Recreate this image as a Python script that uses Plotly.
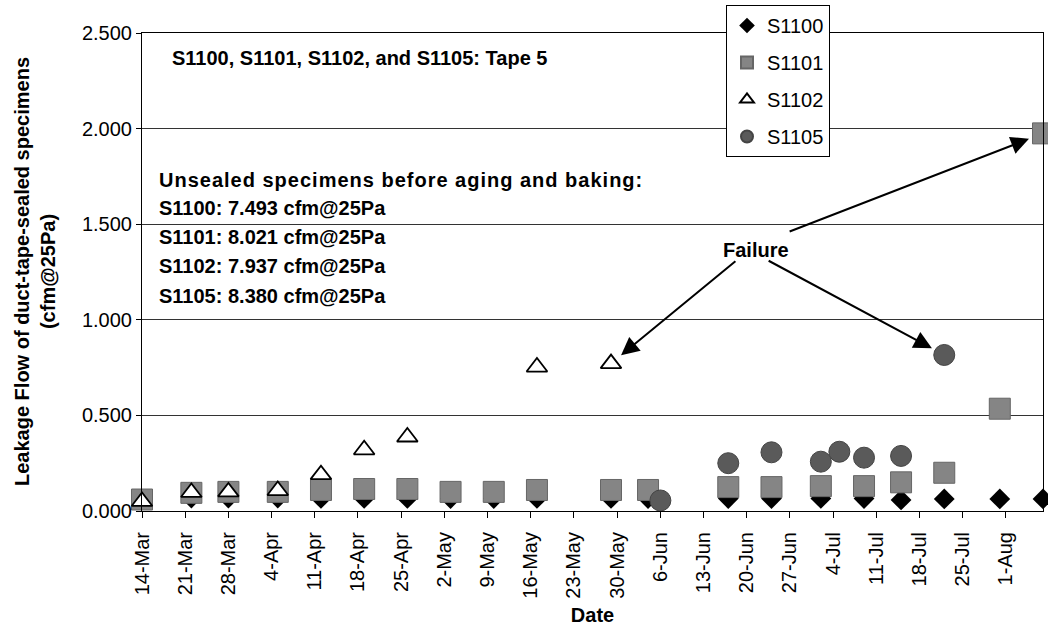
import plotly.graph_objects as go
from datetime import datetime, timedelta

YEAR = 2005

def d(md):
    m, dd = md.split("-")
    return f"{YEAR}-{m}-{dd}"

# ---- data ----
s1100_dates = ["03-14", "03-22", "03-28", "04-05", "04-12", "04-19", "04-26", "05-03", "05-10", "05-17",
               "05-29", "06-04", "06-17", "06-24", "07-02", "07-09", "07-15", "07-22", "07-31", "08-07"]
s1100_vals = [0.060, 0.068, 0.068, 0.068, 0.066, 0.066, 0.066, 0.065, 0.065, 0.066,
              0.066, 0.065, 0.065, 0.065, 0.066, 0.065, 0.058, 0.063, 0.063, 0.063]

s1101_dates = ["03-14", "03-22", "03-28", "04-05", "04-12", "04-19", "04-26", "05-03", "05-10", "05-17",
               "05-29", "06-04", "06-17", "06-24", "07-02", "07-09", "07-15", "07-22", "07-31", "08-07"]
s1101_vals = [0.060, 0.095, 0.100, 0.100, 0.110, 0.115, 0.115, 0.100, 0.100, 0.110,
              0.110, 0.110, 0.125, 0.125, 0.130, 0.130, 0.150, 0.200, 0.535, 1.975]

s1102_dates = ["03-14", "03-22", "03-28", "04-05", "04-12", "04-19", "04-26", "05-17", "05-29"]
s1102_vals = [0.050, 0.097, 0.100, 0.107, 0.190, 0.320, 0.387, 0.753, 0.771]

s1105_dates = ["06-06", "06-17", "06-24", "07-02", "07-05", "07-09", "07-15", "07-22"]
s1105_vals = [0.055, 0.250, 0.307, 0.258, 0.310, 0.279, 0.288, 0.816]

unsealed_lines = [
    "S1100: 7.493 cfm@25Pa",
    "S1101: 8.021 cfm@25Pa",
    "S1102: 7.937 cfm@25Pa",
    "S1105: 8.380 cfm@25Pa",
]

FONT = "Arial, 'Liberation Sans', Helvetica, sans-serif"

# pixel geometry of plot area
L, R, T, B = 142, 1043, 33, 511
W, H = 1048, 630

def px(xp):
    return (xp - L) / (R - L)

def py(yp):
    return (B - yp) / (B - T)

fig = go.Figure()

fig.add_trace(go.Scatter(
    x=[d(v) for v in s1100_dates], y=s1100_vals, mode="markers", name="S1100",
    legendgroup="a",
    marker=dict(symbol="diamond", size=16, color="#000000", line=dict(width=0)),
    cliponaxis=False))
fig.add_trace(go.Scatter(
    x=[d(v) for v in s1101_dates], y=s1101_vals, mode="markers", name="S1101",
    legendgroup="b",
    marker=dict(symbol="square", size=21, color="#858585", line=dict(width=1, color="#666666")),
    cliponaxis=False))
fig.add_trace(go.Scatter(
    x=[d(v) for v in s1102_dates], y=s1102_vals, mode="markers", name="S1102",
    legendgroup="c",
    marker=dict(symbol="triangle-up", size=18, color="#ffffff", line=dict(width=1.8, color="#000000")),
    cliponaxis=False))
fig.add_trace(go.Scatter(
    x=[d(v) for v in s1105_dates], y=s1105_vals, mode="markers", name="S1105",
    legendgroup="d",
    marker=dict(symbol="circle", size=21, color="#5a5a5a", line=dict(width=1, color="#444444")),
    cliponaxis=False))

annotations = []
# text blocks
annotations.append(dict(text="<b>S1100, S1101, S1102, and S1105: Tape 5</b>", xref="paper", yref="paper",
                        x=px(170), y=py(58), xanchor="left", yanchor="middle", showarrow=False,
                        font=dict(size=20, family=FONT, color="black")))
annotations.append(dict(text="<b><span style='letter-spacing:1px'>Unsealed specimens before aging and baking:</span></b>",
                        xref="paper", yref="paper",
                        x=px(157), y=py(180), xanchor="left", yanchor="middle", showarrow=False,
                        font=dict(size=20, family=FONT, color="black")))
for i, line in enumerate(unsealed_lines):
    annotations.append(dict(text=f"<b>{line}</b>", xref="paper", yref="paper",
                            x=px(157), y=py(208 + 29.2 * i), xanchor="left", yanchor="middle",
                            showarrow=False, font=dict(size=20, family=FONT, color="black")))

# Failure label
annotations.append(dict(text="<b>Failure</b>", xref="paper", yref="paper", x=px(756), y=py(250),
                        xanchor="center", yanchor="middle", showarrow=False,
                        font=dict(size=20, family=FONT, color="black")))

base = datetime(YEAR, 3, 14)
def day(n):
    return (base + timedelta(days=n)).strftime("%Y-%m-%d %H:%M")

arrows = [
    (d(s1101_dates[-1]), s1101_vals[-1], day(104.7), 1.459, 15),
    (d(s1102_dates[-1]), s1102_vals[-1], day(96.4), 1.313, 13),
    (d(s1105_dates[-1]), s1105_vals[-1], day(101.3), 1.313, 14),
]
for hx, hy, tx, ty, so in arrows:
    annotations.append(dict(text="", x=hx, y=hy, xref="x", yref="y", ax=tx, ay=ty,
                            axref="x", ayref="y", showarrow=True, arrowhead=2, arrowsize=1.8,
                            arrowwidth=2, arrowcolor="black", standoff=so))

# y axis title
annotations.append(dict(text="<b>Leakage Flow of duct-tape-sealed specimens<br>(cfm@25Pa)</b>",
                        xref="paper", yref="paper", x=px(35), y=py(272), textangle=-90,
                        xanchor="center", yanchor="middle", showarrow=False,
                        font=dict(size=20, family=FONT, color="black")))

fig.update_layout(
    width=W, height=H, autosize=False,
    margin=dict(l=L, r=W - R, t=T, b=H - B, autoexpand=False),
    paper_bgcolor="white", plot_bgcolor="white",
    font=dict(family=FONT, size=20, color="black"),
    showlegend=True,
    legend=dict(x=px(726), y=py(5), xanchor="left", yanchor="top",
                bgcolor="white", bordercolor="black", borderwidth=1,
                font=dict(size=20, family=FONT, color="black"),
                itemsizing="constant", tracegroupgap=8, traceorder="grouped"),
    annotations=annotations,
)

fig.update_xaxes(
    type="date", range=[f"{YEAR}-03-14", f"{YEAR}-08-07"],
    tick0=f"{YEAR}-03-14", dtick=7 * 86400000, tickformat="%-d-%b", tickangle=-90,
    ticks="outside", ticklen=6, tickcolor="black", tickwidth=1, ticklabelstandoff=6,
    showline=True, linecolor="black", linewidth=1, mirror=True,
    showgrid=False, zeroline=False,
    tickfont=dict(size=20, family=FONT, color="black"),
    title=dict(text="<b>Date</b>", standoff=10, font=dict(size=20, family=FONT, color="black")),
    automargin=False,
)
fig.update_yaxes(
    range=[0, 2.5], dtick=0.5, tick0=0, tickformat=".3f",
    ticks="outside", ticklen=5, tickcolor="black", tickwidth=1,
    showline=True, linecolor="black", linewidth=1, mirror=True,
    showgrid=True, gridcolor="#333333", gridwidth=1, zeroline=False,
    tickfont=dict(size=20, family=FONT, color="black"),
    automargin=False,
)

fig.write_html("out.html", config={"displayModeBar": False},
               post_script="document.body.style.margin='0';document.body.style.overflow='hidden';")
